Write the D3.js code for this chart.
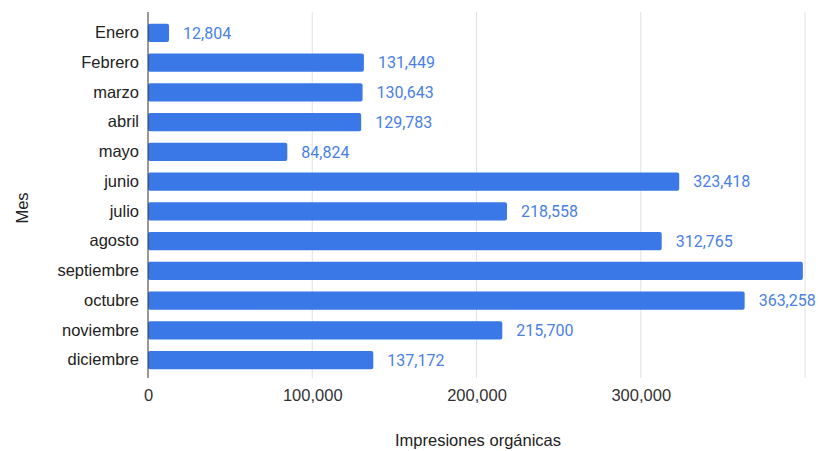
<!DOCTYPE html>
<html><head><meta charset="utf-8">
<script src="https://cdn.jsdelivr.net/npm/d3@7"></script>
<style>html,body{margin:0;padding:0;background:#fff;overflow:hidden}</style>
</head><body>
<svg id="chart" width="820" height="451"></svg>
<script>
const months = ["Enero","Febrero","marzo","abril","mayo","junio","julio","agosto","septiembre","octubre","noviembre","diciembre"];
const impressions = [12804,131449,130643,129783,84824,323418,218558,312765,398700,363258,215700,137172];
const tickValues = [0,100000,200000,300000,400000];
const tickLabels = ["0","100,000","200,000","300,000",""];

const svg = d3.select("#chart");
const W = 820, H = 451;
const m = {left:148, right:15, top:18, bottom:76};
const x = d3.scaleLinear().domain([0,400000]).range([m.left, 805]);
const y = d3.scaleBand().domain(months).range([m.top, H - m.bottom]).paddingInner(0.38).paddingOuter(0.19);

// gridlines
svg.append("g").selectAll("line").data(tickValues.slice(1)).join("line")
  .attr("x1", d=>x(d)).attr("x2", d=>x(d)).attr("y1", 12).attr("y2", 378)
  .attr("stroke", "#e2e2e2").attr("stroke-width", 1);

// bars
svg.append("g").selectAll("rect").data(months).join("rect")
  .attr("x", x(0)).attr("y", d=>y(d))
  .attr("width", (d,i)=>x(impressions[i]) - x(0))
  .attr("height", y.bandwidth())
  .attr("rx", 2)
  .attr("fill", "#3a78e7");

// value labels
const fmt = d3.format(",");
svg.append("g").selectAll("text").data(months.filter((d,i)=>x(impressions[i]) < 790)).join("text")
  .attr("x", d=>x(impressions[months.indexOf(d)]) + 14)
  .attr("y", d=>y(d) + y.bandwidth()/2)
  .attr("dy", "0.36em")
  .attr("font-family", "Roboto, 'Liberation Sans', sans-serif")
  .attr("font-size", 16)
  .attr("fill", "#4a7fe6")
  .text(d=>fmt(impressions[months.indexOf(d)]));

// y axis line
svg.append("line").attr("x1", x(0)).attr("x2", x(0)).attr("y1", 12).attr("y2", 378)
  .attr("stroke", "#333").attr("stroke-width", 1);

// category labels
const yAxis = d3.axisLeft(y).tickSize(0).tickPadding(9);
const ya = svg.append("g").attr("transform", `translate(${x(0)},0)`).call(yAxis);
ya.select(".domain").remove();
ya.selectAll("text").attr("font-family", "'Liberation Sans', Arial, sans-serif")
  .attr("font-size", 16.5).attr("fill", "#222");

// x axis tick labels
const xAxis = d3.axisBottom(x).tickValues(tickValues).tickSize(0).tickPadding(0)
  .tickFormat((d,i)=>tickLabels[i]);
const xa = svg.append("g").attr("transform", `translate(0,0)`).call(xAxis);
xa.select(".domain").remove();
xa.selectAll("text").attr("font-family", "'Liberation Sans', Arial, sans-serif")
  .attr("font-size", 16.5).attr("fill", "#333").attr("y", 401).attr("dy", null);

// axis titles
svg.append("text").attr("x", 478).attr("y", 446).attr("text-anchor", "middle")
  .attr("font-family", "'Liberation Sans', Arial, sans-serif").attr("font-size", 16.5).attr("fill", "#222")
  .text("Impresiones orgánicas");
svg.append("text").attr("transform", "translate(28,208) rotate(-90)").attr("text-anchor", "middle")
  .attr("font-family", "'Liberation Sans', Arial, sans-serif").attr("font-size", 16.5).attr("fill", "#222")
  .text("Mes");
</script>
</body></html>
